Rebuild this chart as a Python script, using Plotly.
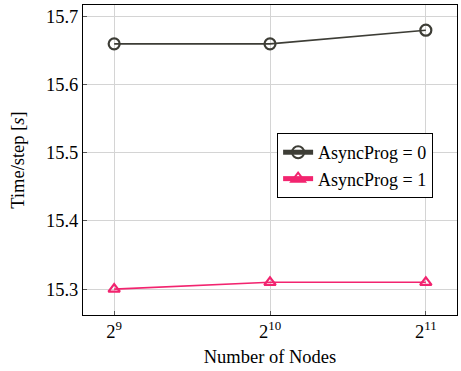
import plotly.graph_objects as go

nodes_log2 = [9, 10, 11]
tick_labels = ["2<sup>9</sup>", "2<sup>10</sup>", "2<sup>11</sup>"]
async0 = [15.66, 15.66, 15.68]
async1 = [15.30, 15.31, 15.31]
y_ticks = [15.3, 15.4, 15.5, 15.6, 15.7]

FONT = "Liberation Serif"
dark = "#3d3d36"
pink = "#f2246f"

fig = go.Figure()
fig.add_trace(go.Scatter(
    x=nodes_log2, y=async0, mode="lines+markers", name="AsyncProg = 0",
    line=dict(color=dark, width=1.6),
    marker=dict(symbol="circle-open", size=11, color=dark, line=dict(width=2.2, color=dark)),
))
fig.add_trace(go.Scatter(
    x=nodes_log2, y=async1, mode="lines+markers", name="AsyncProg = 1",
    line=dict(color=pink, width=1.6),
    marker=dict(symbol="triangle-up-open", size=10, color=pink, line=dict(width=2.2, color=pink)),
))

fig.update_layout(
    width=461, height=371,
    margin=dict(l=83, r=4, t=5, b=56, autoexpand=False),
    paper_bgcolor="white", plot_bgcolor="white",
    font=dict(family=FONT, size=18, color="black"),
    showlegend=True,
    legend=dict(
        x=0.519, y=0.587, xanchor="left", yanchor="top",
        bordercolor="black", borderwidth=1, bgcolor="white",
        font=dict(family=FONT, size=18),
        tracegroupgap=0, itemsizing="constant",
    ),
    xaxis=dict(
        range=[8.8, 11.2], tickmode="array", tickvals=nodes_log2, ticktext=tick_labels,
        showgrid=True, gridcolor="#d4d4d4", gridwidth=1,
        showline=True, linecolor="black", linewidth=1, mirror=True,
        ticks="inside", ticklen=4, tickcolor="#555555",
        zeroline=False, automargin=False,
        title=dict(text="Number of Nodes", font=dict(family=FONT, size=18.5), standoff=8),
        tickfont=dict(family=FONT, size=18.5),
    ),
    yaxis=dict(
        range=[15.262, 15.717], tickmode="array", tickvals=y_ticks,
        ticktext=[f"{v:.1f}" for v in y_ticks],
        showgrid=True, gridcolor="#d4d4d4", gridwidth=1,
        showline=True, linecolor="black", linewidth=1, mirror=True,
        ticks="inside", ticklen=4, tickcolor="#555555",
        zeroline=False, automargin=False,
        title=dict(text="Time/step [<i>s</i>]", font=dict(family=FONT, size=18.5), standoff=16),
        tickfont=dict(family=FONT, size=18.5),
    ),
)

fig.write_html("out.html", config={"displayModeBar": False})

# remove default page margin so the figure sits at the window's top-left
with open("out.html", "r", encoding="utf-8") as f:
    html = f.read()
html = html.replace("<head>", "<head><style>html,body{margin:0;padding:0;}</style>", 1)
with open("out.html", "w", encoding="utf-8") as f:
    f.write(html)
